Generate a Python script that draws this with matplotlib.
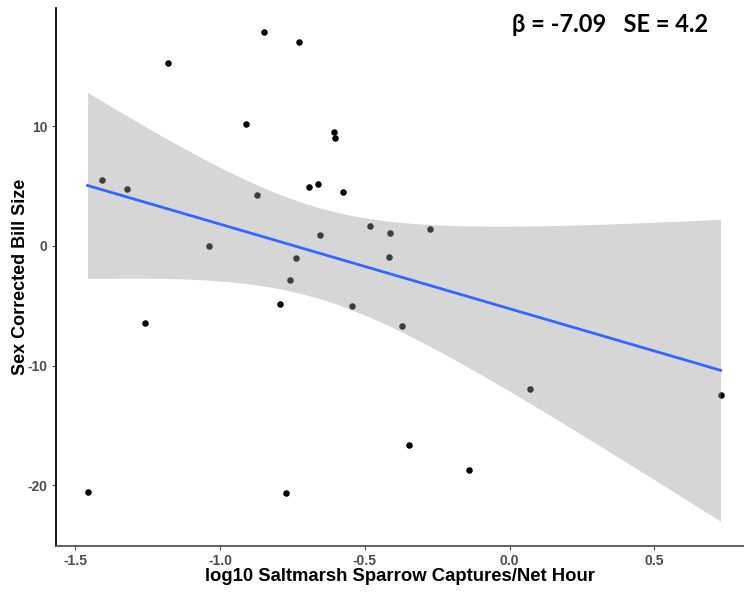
import numpy as np
import matplotlib
matplotlib.use("Agg")
import matplotlib.pyplot as plt

# log10 captures per net hour and sex corrected bill size for each site
captures = [-0.850, -0.728, -1.181, -0.910, -0.608, -0.604, -1.407, -1.321,
            -0.871, -0.694, -0.663, -0.577, -0.481, -0.656, -1.038, -0.738,
            -0.757, -0.412, -0.276, -0.415, -0.793, -0.546, -1.260, -1.458,
            -0.773, -0.370, 0.072, 0.729, -0.347, -0.139]
bill_size = [17.85, 17.0, 15.3, 10.2, 9.5, 9.0, 5.54, 4.79,
             4.26, 4.96, 5.21, 4.48, 1.70, 0.89, 0.0, -1.0,
             -2.81, 1.11, 1.45, -0.92, -4.85, -4.99, -6.46, -20.55,
             -20.66, -6.68, -11.95, -12.48, -16.6, -18.74]
x_ticks = [-1.5, -1.0, -0.5, 0.0, 0.5]
x_tick_labels = ["-1.5", "-1.0", "-0.5", "0.0", "0.5"]
y_ticks = [-20, -10, 0, 10]
y_tick_labels = ["-20", "-10", "0", "10"]

x = np.array(captures)
y = np.array(bill_size)

# ordinary least squares fit with 95% confidence band (like geom_smooth(method="lm"))
n = len(x)
slope, intercept = np.polyfit(x, y, 1)
resid = y - (slope * x + intercept)
s = np.sqrt(np.sum(resid ** 2) / (n - 2))
sxx = np.sum((x - x.mean()) ** 2)
t_crit = 2.048  # t quantile, 28 df
xs = np.linspace(x.min(), x.max(), 80)
fit = slope * xs + intercept
half = t_crit * s * np.sqrt(1 / n + (xs - x.mean()) ** 2 / sxx)

fig = plt.figure(figsize=(7.44, 5.92), dpi=100)
ax = fig.add_axes([0.0753, 0.0777, 0.9247, 0.9088])

ax.scatter(x, y, s=22, color="black", zorder=2, linewidths=0)
ax.fill_between(xs, fit - half, fit + half, color="#999999", alpha=0.4,
                linewidth=0, zorder=3)
ax.plot(xs, fit, color="#3366FF", linewidth=2, zorder=4)

ax.set_xlim(-1.567, 0.81)
ax.set_ylim(-25.06, 19.88)
ax.set_xticks(x_ticks)
ax.set_xticklabels(x_tick_labels)
ax.set_yticks(y_ticks)
ax.set_yticklabels(y_tick_labels)

for side in ["top", "right"]:
    ax.spines[side].set_visible(False)
ax.spines["left"].set_color("black")
ax.spines["bottom"].set_color("#555555")
ax.spines["left"].set_linewidth(1.3)
ax.spines["bottom"].set_linewidth(1.3)

ax.tick_params(axis="both", direction="out", length=3, width=0.8,
               color="#4D4D4D", labelcolor="#4D4D4D", labelsize=10, pad=3)
for lab in ax.get_xticklabels() + ax.get_yticklabels():
    lab.set_fontweight("bold")
    lab.set_family("Liberation Sans")

ax.set_xlabel("log10 Saltmarsh Sparrow Captures/Net Hour", fontsize=13.3,
              fontweight="bold", family="Liberation Sans", labelpad=0)
ax.set_ylabel("Sex Corrected Bill Size", fontsize=13, fontweight="bold",
              family="Liberation Sans", labelpad=-1)

fig.text(0.688, 0.958, "β = -7.09   SE = 4.2", fontsize=17, fontweight="bold",
         family="Lato", ha="left", va="center")

fig.savefig("out.png", dpi=100)
